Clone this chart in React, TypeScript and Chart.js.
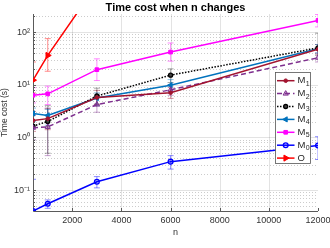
import React, { useEffect, useRef } from 'react';
import { Chart, registerables } from 'chart.js';
import { drawPoint } from 'chart.js/helpers';

Chart.register(...registerables);

// ---- data ----
const nValues = [400, 1000, 3000, 6000, 12000];
const xTickValues = [2000, 4000, 6000, 8000, 10000, 12000];
const yTickValues = [0.1, 1, 10, 100];
const yTickLabels = ['10⁻¹', '10⁰', '10¹', '10²'];

const m1 = [2.1, 2.27, 5.7, 7.05, 47];
const m2 = [1.52, 1.58, 4.2, 8.0, 32.5];
const m3 = [1.64, 2.0, 6.1, 15.2, 50];
const m4 = [2.85, 2.61, 5.6, 9.8, 48];
const m5 = [6.3, 6.7, 19.3, 41.6, 166];
const m0 = [0.04, 0.055, 0.144, 0.346, 0.7];
const o = [12.2, 36, 800];

const m1Lo = [1.3, 1.4, 4.2, 5.5, 38];
const m1Hi = [3.1, 3.5, 7.8, 9.0, 58];
const m2Lo = [0.9, 0.45, 3.0, 6.3, 27];
const m2Hi = [2.6, 3.6, 6.0, 10, 40];
const m3Lo = [1.0, 0.5, 4.3, 11, 36];
const m3Hi = [2.7, 4.0, 8.6, 20, 95];
const m4Lo = [2.0, 1.7, 4.0, 7.5, 40];
const m4Hi = [3.6, 3.4, 7.0, 12.5, 58];
const m5Lo = [4.5, 4.2, 12, 28, 125];
const m5Hi = [8.8, 9.4, 31, 62, 215];
const m0Lo = [0.03, 0.045, 0.11, 0.25, 0.38];
const m0Hi = [0.16, 0.065, 0.18, 0.45, 1.03];
const oLo = [7, 18, 400];
const oHi = [27, 75, 1600];

const seriesMain = ['M', 'M', 'M', 'M', 'M', 'M', 'O'];
const seriesSub = ['1', '2', '3', '4', '5', '0', ''];
const seriesValues = [m1, m2, m3, m4, m5, m0, o];
const seriesLo = [m1Lo, m2Lo, m3Lo, m4Lo, m5Lo, m0Lo, oLo];
const seriesHi = [m1Hi, m2Hi, m3Hi, m4Hi, m5Hi, m0Hi, oHi];

// ---- styles ----
const FONT = '"Liberation Sans", Arial, Helvetica, sans-serif';
const colors = ['#A2142F', '#7E2F8E', '#000000', '#0072BD', '#FF00FF', '#0000FF', '#FF0000'];
const errColors = [
  'rgba(162,20,47,0.45)',
  'rgba(126,47,142,0.45)',
  'rgba(0,0,0,0.35)',
  'rgba(0,114,189,0.45)',
  'rgba(255,0,255,0.45)',
  'rgba(0,0,255,0.45)',
  'rgba(255,0,0,0.45)',
];
const dashes = [[], [5, 3], [1.5, 1.5], [], [], [], []];
const markers = [
  { pointStyle: 'circle', rotation: 0, radius: 1.8, bg: '#A2142F', bw: 1 },
  { pointStyle: 'triangle', rotation: 0, radius: 3, bg: 'rgba(126,47,142,0.35)', bw: 1 },
  { pointStyle: 'circle', rotation: 0, radius: 2, bg: '#444444', bw: 1.3 },
  { pointStyle: 'triangle', rotation: -90, radius: 3, bg: '#0072BD', bw: 1 },
  { pointStyle: 'rect', rotation: 0, radius: 2.6, bg: '#FF00FF', bw: 1 },
  { pointStyle: 'circle', rotation: 0, radius: 2.4, bg: 'rgba(0,0,255,0.12)', bw: 1.3 },
  { pointStyle: 'triangle', rotation: 90, radius: 3.5, bg: '#FF0000', bw: 1 },
];

const decorPlugin = {
  id: 'decor',
  beforeDatasetsDraw(chart: any) {
    const { ctx, chartArea: a, scales } = chart;
    const xs = scales.x;
    const ys = scales.y;
    ctx.save();
    ctx.beginPath();
    ctx.rect(a.left, a.top, a.right - a.left, a.bottom - a.top);
    ctx.clip();
    // grid
    ctx.lineWidth = 1;
    ctx.strokeStyle = 'rgba(0,0,0,0.11)';
    ctx.setLineDash([]);
    xTickValues.forEach((v) => {
      const px = Math.round(xs.getPixelForValue(v)) + 0.5;
      ctx.beginPath();
      ctx.moveTo(px, a.top);
      ctx.lineTo(px, a.bottom);
      ctx.stroke();
    });
    for (let k = -2; k <= 3; k++) {
      for (let m = 1; m <= 9; m++) {
        const v = m * Math.pow(10, k);
        if (v <= ys.min || v >= ys.max) continue;
        const py = Math.round(ys.getPixelForValue(v)) + 0.5;
        if (m === 1) {
          ctx.setLineDash([]);
          ctx.strokeStyle = 'rgba(0,0,0,0.11)';
        } else {
          ctx.setLineDash([1, 2]);
          ctx.strokeStyle = 'rgba(0,0,0,0.2)';
        }
        ctx.beginPath();
        ctx.moveTo(a.left, py);
        ctx.lineTo(a.right, py);
        ctx.stroke();
      }
    }
    ctx.setLineDash([]);
    // error bars
    seriesValues.forEach((vals, si) => {
      ctx.strokeStyle = errColors[si];
      ctx.lineWidth = 1;
      vals.forEach((_, j) => {
        const px = xs.getPixelForValue(nValues[j]);
        const lo = ys.getPixelForValue(seriesLo[si][j]);
        const hi = ys.getPixelForValue(seriesHi[si][j]);
        ctx.beginPath();
        ctx.moveTo(px, lo);
        ctx.lineTo(px, hi);
        ctx.moveTo(px - 3, lo);
        ctx.lineTo(px + 3, lo);
        ctx.moveTo(px - 3, hi);
        ctx.lineTo(px + 3, hi);
        ctx.stroke();
      });
    });
    ctx.restore();

    // axes
    ctx.save();
    ctx.strokeStyle = '#5a5a5a';
    ctx.lineWidth = 1;
    ctx.beginPath();
    ctx.moveTo(a.left + 0.5, a.top);
    ctx.lineTo(a.left + 0.5, a.bottom + 0.5);
    ctx.lineTo(a.right, a.bottom + 0.5);
    ctx.stroke();
    ctx.beginPath();
    xTickValues.forEach((v) => {
      const px = Math.round(xs.getPixelForValue(v)) + 0.5;
      ctx.moveTo(px, a.bottom);
      ctx.lineTo(px, a.bottom - 3);
    });
    for (let k = -2; k <= 3; k++) {
      for (let m = 1; m <= 9; m++) {
        const v = m * Math.pow(10, k);
        if (v <= ys.min || v >= ys.max) continue;
        const py = Math.round(ys.getPixelForValue(v)) + 0.5;
        ctx.moveTo(a.left, py);
        ctx.lineTo(a.left + (m === 1 ? 3 : 2), py);
      }
    }
    ctx.stroke();
    ctx.restore();
  },
  afterDraw(chart: any) {
    const { ctx, chartArea: a } = chart;
    ctx.save();
    // title
    ctx.fillStyle = '#000';
    ctx.font = `bold 11px ${FONT}`;
    ctx.textAlign = 'center';
    ctx.textBaseline = 'middle';
    ctx.fillText('Time cost when n changes', (a.left + a.right) / 2, 7.5);

    // legend
    const bx = 275.5;
    const by = 72.5;
    const bw = 35;
    const bh = 91;
    ctx.fillStyle = '#ffffff';
    ctx.fillRect(bx, by, bw, bh);
    ctx.strokeStyle = '#555';
    ctx.lineWidth = 0.8;
    ctx.strokeRect(bx, by, bw, bh);
    seriesMain.forEach((name, i) => {
      const y = 80.7 + i * 12.9;
      ctx.strokeStyle = colors[i];
      ctx.lineWidth = 1.5;
      ctx.setLineDash(dashes[i]);
      ctx.beginPath();
      ctx.moveTo(277, y);
      ctx.lineTo(294.5, y);
      ctx.stroke();
      ctx.setLineDash([]);
      const mk = markers[i];
      ctx.fillStyle = mk.bg;
      ctx.strokeStyle = colors[i];
      ctx.lineWidth = mk.bw;
      drawPoint(ctx, { pointStyle: mk.pointStyle as any, rotation: mk.rotation, radius: mk.radius, borderWidth: mk.bw }, 285.7, y);
      ctx.fillStyle = '#262626';
      ctx.textAlign = 'left';
      ctx.textBaseline = 'middle';
      ctx.font = `9.5px ${FONT}`;
      ctx.fillText(name, 297.5, y);
      const w = ctx.measureText(name).width;
      if (seriesSub[i]) {
        ctx.font = `7px ${FONT}`;
        ctx.fillText(seriesSub[i], 297.5 + w + 0.3, y + 3);
      }
    });
    ctx.restore();
  },
};

export default function App() {
  const ref = useRef<HTMLCanvasElement | null>(null);
  useEffect(() => {
    if (!ref.current) return;
    const datasets = seriesValues.map((vals, i) => ({
      label: seriesMain[i] + seriesSub[i],
      data: vals.map((v, j) => ({ x: nValues[j], y: v })),
      borderColor: colors[i],
      backgroundColor: markers[i].bg,
      borderWidth: 1.5,
      borderDash: dashes[i],
      pointStyle: markers[i].pointStyle as any,
      pointRotation: markers[i].rotation,
      pointRadius: markers[i].radius,
      pointBorderWidth: markers[i].bw,
      pointBorderColor: colors[i],
      pointBackgroundColor: markers[i].bg,
      tension: 0,
      fill: false,
    }));
    const chart = new Chart(ref.current, {
      type: 'line',
      data: { datasets },
      plugins: [decorPlugin],
      options: {
        animation: false,
        responsive: false,
        devicePixelRatio: 1,
        layout: { padding: { top: 14, right: 12, left: 0, bottom: 0 } },
        plugins: {
          legend: { display: false },
          title: { display: false },
          tooltip: { enabled: false },
        },
        scales: {
          x: {
            type: 'linear',
            min: 400,
            max: 12000,
            grid: { display: false, drawTicks: false, tickLength: 0 },
            border: { display: false },
            afterBuildTicks: (s: any) => {
              s.ticks = xTickValues.map((v) => ({ value: v }));
            },
            afterFit: (s: any) => {
              s.height = 37;
              s.paddingLeft = 0;
              s.paddingRight = 0;
            },
            ticks: {
              autoSkip: false,
              maxRotation: 0,
              padding: 4,
              color: '#333',
              font: { family: FONT, size: 9 },
              callback: (v: any) => String(v),
            },
            title: {
              display: true,
              text: 'n',
              color: '#333',
              font: { family: FONT, size: 9 },
              padding: { top: 0, bottom: 10 },
            },
          },
          y: {
            type: 'logarithmic',
            min: 0.04,
            max: 220,
            grid: { display: false, drawTicks: false, tickLength: 0 },
            border: { display: false },
            afterBuildTicks: (s: any) => {
              s.ticks = yTickValues.map((v) => ({ value: v }));
            },
            afterFit: (s: any) => {
              s.width = 33;
              s.paddingTop = 0;
              s.paddingBottom = 0;
            },
            ticks: {
              autoSkip: false,
              padding: 3,
              color: '#333',
              font: { family: FONT, size: 9 },
              callback: (_v: any, idx: number) => yTickLabels[idx],
            },
            title: {
              display: true,
              text: 'Time cost (s)',
              color: '#333',
              font: { family: FONT, size: 8.5 },
              padding: 0,
            },
          },
        },
      } as any,
    });
    return () => chart.destroy();
  }, []);
  return (
    <div style={{ position: 'fixed', left: 0, top: 0, width: 330, height: 248, background: '#fff' }}>
      <canvas ref={ref} width={330} height={248} style={{ width: 330, height: 248, display: 'block' }} />
    </div>
  );
}
